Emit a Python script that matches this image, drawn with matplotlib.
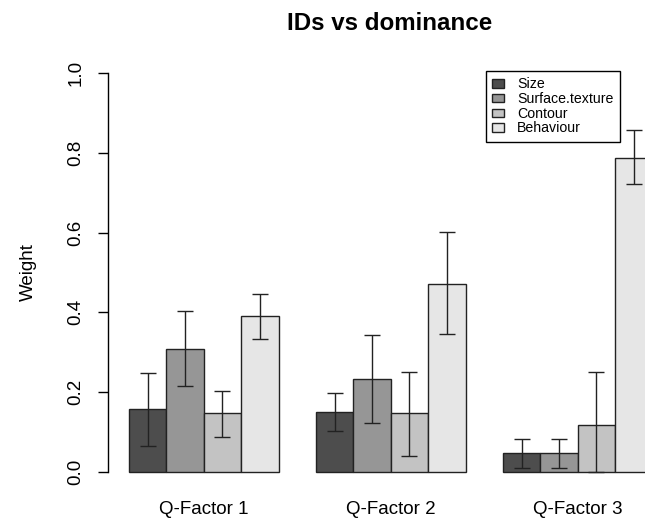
import matplotlib
matplotlib.use("Agg")
import matplotlib.pyplot as plt
import numpy as np

plt.rcParams['font.family'] = ['Liberation Sans', 'DejaVu Sans']

groups = ["Q-Factor 1", "Q-Factor 2", "Q-Factor 3"]
series = ["Size", "Surface.texture", "Contour", "Behaviour"]
colors = ["#4D4D4D", "#969696", "#C3C3C3", "#E6E6E6"]

size_mean = [0.157, 0.150, 0.048]
size_lo = [0.066, 0.104, 0.009]
size_hi = [0.248, 0.198, 0.084]

surface_mean = [0.308, 0.232, 0.048]
surface_lo = [0.216, 0.123, 0.009]
surface_hi = [0.403, 0.343, 0.084]

contour_mean = [0.147, 0.149, 0.119]
contour_lo = [0.088, 0.040, 0.0]
contour_hi = [0.204, 0.251, 0.251]

behaviour_mean = [0.390, 0.472, 0.786]
behaviour_lo = [0.333, 0.346, 0.722]
behaviour_hi = [0.447, 0.601, 0.856]

yticks = [0.0, 0.2, 0.4, 0.6, 0.8, 1.0]
ytick_labels = ["0.0", "0.2", "0.4", "0.6", "0.8", "1.0"]

means = [size_mean, surface_mean, contour_mean, behaviour_mean]
los = [size_lo, surface_lo, contour_lo, behaviour_lo]
his = [size_hi, surface_hi, contour_hi, behaviour_hi]

W, H = 645, 519
fig = plt.figure(figsize=(W / 100, H / 100), dpi=100)
ax = fig.add_axes([108 / W, (H - 488) / H, (673.5 - 108) / W, (488 - 57) / H])

ng = len(groups)
ns = len(series)
handles = []
for j in range(ns):
    xs = np.array([1 + (ns + 1) * g + j + 0.5 for g in range(ng)])
    m = np.array(means[j])
    lo = np.array(los[j])
    hi = np.array(his[j])
    b = ax.bar(xs, m, width=1.0, color=colors[j], edgecolor="#222222",
               linewidth=1.0, label=series[j], zorder=2)
    handles.append(b)
    ax.errorbar(xs, m, yerr=[m - lo, hi - m], fmt="none", ecolor="#222222",
                elinewidth=1.0, capsize=6, capthick=1.0, zorder=3)

ax.set_xlim(0.44, 15.56)
ax.set_ylim(-0.04, 1.04)

for s in ["top", "right", "bottom"]:
    ax.spines[s].set_visible(False)
ax.spines["left"].set_bounds(0, 1)
ax.spines["left"].set_linewidth(1.0)

ax.set_yticks(yticks)
ax.set_yticklabels(ytick_labels, rotation=90, va="center", fontsize=13.5)
ax.tick_params(axis="y", direction="out", length=7, width=1.0, pad=10)

centers = [1 + (ns + 1) * g + ns / 2 for g in range(ng)]
ax.set_xticks(centers)
ax.set_xticklabels(groups, fontsize=13.5)
ax.tick_params(axis="x", length=0, pad=9)

ax.set_ylabel("Weight", fontsize=13.5)
ax.yaxis.set_label_coords((37 - 108) / (673.5 - 108), 0.5)

fig.text(390 / W, 1 - 23 / H, "IDs vs dominance", ha="center", va="center",
         fontsize=17.4, fontweight="bold")

leg = ax.legend(handles=handles, labels=series, loc="upper left",
                bbox_to_anchor=(486 / W, 1 - 71 / H), bbox_transform=fig.transFigure,
                borderaxespad=0, fontsize=10.2, frameon=True, fancybox=False,
                edgecolor="black", framealpha=1, labelspacing=0.05,
                handlelength=0.85, handleheight=0.55, handletextpad=0.9,
                borderpad=0.45)
leg.get_frame().set_linewidth(1.0)

fig.savefig("out.png", dpi=100)
